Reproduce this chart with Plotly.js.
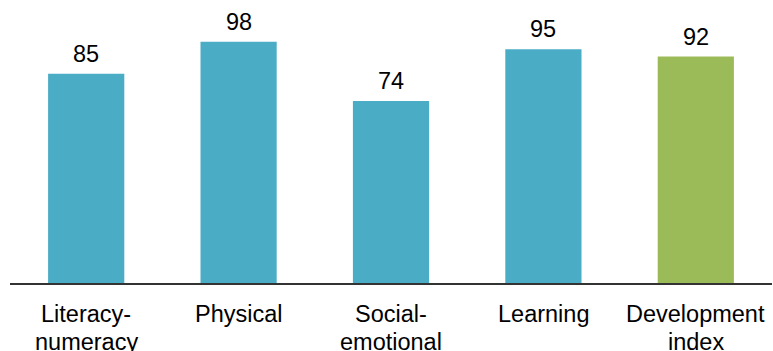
<!DOCTYPE html>
<html><head><meta charset="utf-8">
<script src="https://cdn.plot.ly/plotly-3.0.1.min.js"></script>
<style>html,body{margin:0;padding:0;background:#fff;}#chart{width:773px;height:351px;}</style>
</head><body><div id="chart"></div>
<script>
const categories = ["Literacy-<br>numeracy", "Physical", "Social-<br>emotional", "Learning", "Development<br>index"];
const values = [85, 98, 74, 95, 92];
const barColors = ["#4BACC6", "#4BACC6", "#4BACC6", "#4BACC6", "#9BBB59"];

const FONT = "Liberation Sans, Arial, sans-serif";
const SIZE = 23.5;
const annotations = [];
categories.forEach((c, i) => {
  annotations.push({x: c, y: values[i], xref: "x", yref: "y", text: String(values[i]),
    showarrow: false, yanchor: "bottom", yshift: 5, font: {family: FONT, size: SIZE, color: "#000"}});
  c.split("<br>").forEach((line, k) => {
    annotations.push({x: c, y: 0, xref: "x", yref: "paper", text: line,
      showarrow: false, yanchor: "top", yshift: -16 - k * 27.5, font: {family: FONT, size: SIZE, color: "#000"}});
  });
});

Plotly.newPlot("chart", [{
  type: "bar",
  x: categories,
  y: values,
  marker: {color: barColors},
  cliponaxis: false,
  hoverinfo: "none"
}], {
  width: 773, height: 351,
  margin: {l: 10, r: 1, t: 0, b: 68},
  paper_bgcolor: "#fff", plot_bgcolor: "#fff",
  bargap: 0.5,
  font: {family: FONT, size: SIZE, color: "#000"},
  xaxis: {showline: true, linecolor: "#333", linewidth: 1.5, ticks: "", showgrid: false,
          showticklabels: false, automargin: false},
  yaxis: {range: [0, 115], visible: false, showgrid: false, zeroline: false},
  annotations: annotations,
  showlegend: false
}, {staticPlot: true, displayModeBar: false});
</script></body></html>
